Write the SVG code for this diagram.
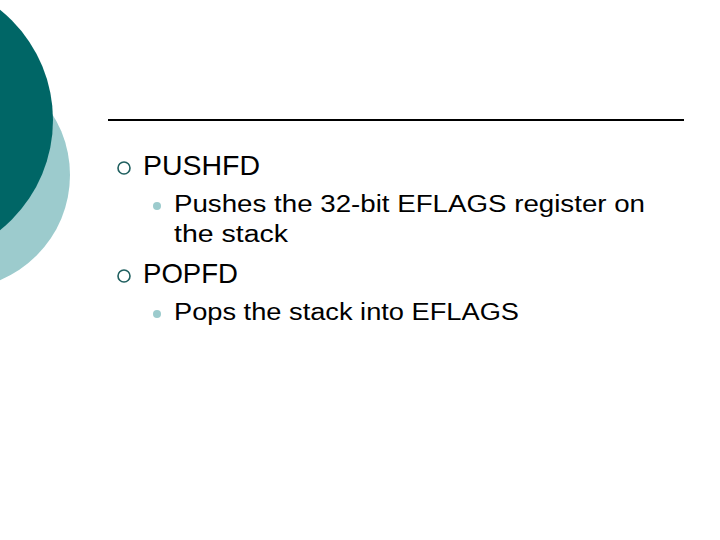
<svg xmlns="http://www.w3.org/2000/svg" width="720" height="540" viewBox="0 0 720 540">
<style>
.t{font-family:"Liberation Sans",Arial,sans-serif;fill:#000}
.h{font-size:28px}.s{font-size:23px}
</style>
<rect width="720" height="540" fill="#fff"/>
<g id="decor">
<circle cx="-44" cy="175" r="114" fill="#9ccbcd"/>
<circle cx="-88" cy="120" r="141" fill="#006666"/>
<line x1="108" y1="120" x2="684" y2="120" stroke="#000" stroke-width="2"/>
</g>
<g id="item1">
<circle cx="124" cy="168" r="6" fill="none" stroke="#1f5f5f" stroke-width="1.6"/>
<text class="t h" x="143" y="175" textLength="117" lengthAdjust="spacingAndGlyphs">PUSHFD</text>
<circle cx="157" cy="206" r="4" fill="#9ccbcd"/>
<text class="t s" x="174" y="212" textLength="471" lengthAdjust="spacingAndGlyphs">Pushes the 32-bit EFLAGS register on</text>
<text class="t s" x="174" y="242" textLength="114" lengthAdjust="spacingAndGlyphs">the stack</text>
</g>
<g id="item2">
<circle cx="124" cy="276" r="6" fill="none" stroke="#1f5f5f" stroke-width="1.6"/>
<text class="t h" x="143" y="283" textLength="95" lengthAdjust="spacingAndGlyphs">POPFD</text>
<circle cx="157" cy="314" r="4" fill="#9ccbcd"/>
<text class="t s" x="174" y="320" textLength="345" lengthAdjust="spacingAndGlyphs">Pops the stack into EFLAGS</text>
</g>
</svg>
